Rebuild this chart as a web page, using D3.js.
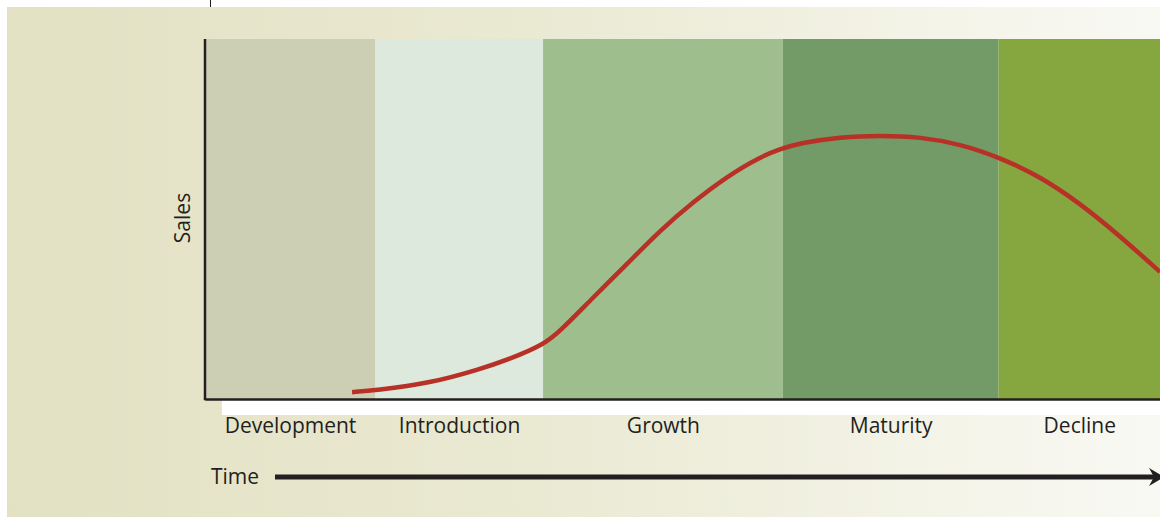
<!DOCTYPE html>
<html>
<head>
<meta charset="utf-8">
<script src="https://cdn.jsdelivr.net/npm/d3@7"></script>
<style>
  body { margin: 0; background: #fff; }
  svg { display: block; }
  text { font-family: "Open Sans", "Noto Sans", sans-serif; fill: #231f20; }
</style>
</head>
<body>
<svg id="chart"></svg>
<script>
// product life cycle stages (time units 0..100)
var stages = ["Development", "Introduction", "Growth", "Maturity", "Decline"];
var stageStart = [0, 17.8, 35.4, 60.5, 83.1];
var stageEnd = [17.8, 35.4, 60.5, 83.1, 100];

// sales curve
var time = [15.4, 17.8, 23.6, 28.8, 31.9, 35.4, 37.2, 40.6, 44.2, 47.6, 51.1, 54.7, 58.1, 60.2,
            62.3, 66.5, 70.7, 74.9, 79.1, 83.1, 87.4, 91.6, 95.8, 100];
var sales = [1.9, 2.4, 4.4, 8.3, 11.1, 15.0, 18.9, 28.1, 37.5, 46.7, 54.7, 61.9, 67.2, 69.4,
             71.1, 72.8, 73.2, 72.8, 70.8, 67.2, 61.9, 54.4, 45.3, 35.3];

var stageColors = ["#cdcfb4", "#dde9dc", "#9fbe8e", "#729b68", "#86a640"];

var W = 1160, H = 518;
var svg = d3.select("#chart").attr("width", W).attr("height", H);

// background panel
var grad = svg.append("defs").append("linearGradient")
    .attr("id", "bg").attr("x1", "0%").attr("x2", "100%");
grad.append("stop").attr("offset", "0%").attr("stop-color", "#e3e1c3");
grad.append("stop").attr("offset", "45%").attr("stop-color", "#eae9d2");
grad.append("stop").attr("offset", "100%").attr("stop-color", "#f9f9f4");

svg.append("rect")
    .attr("x", 7).attr("y", 7)
    .attr("width", W - 7).attr("height", 510)
    .attr("fill", "url(#bg)");

// small mark at top
svg.append("line")
    .attr("x1", 210.5).attr("x2", 210.5)
    .attr("y1", 0).attr("y2", 7)
    .attr("stroke", "#231f20").attr("stroke-width", 1);

var x = d3.scaleLinear().domain([0, 100]).range([205, 1160]);
var y = d3.scaleLinear().domain([0, 100]).range([399, 39]);

// stage bands
svg.selectAll(".band")
    .data(stages)
    .enter()
    .append("rect")
    .attr("class", "band")
    .attr("x", function(d, i) { return x(stageStart[i]); })
    .attr("width", function(d, i) { return x(stageEnd[i]) - x(stageStart[i]); })
    .attr("y", y(100))
    .attr("height", y(0) - y(100))
    .attr("fill", function(d, i) { return stageColors[i]; });

// white strip below the axis
svg.append("rect")
    .attr("x", 222).attr("y", 400)
    .attr("width", W - 222).attr("height", 15)
    .attr("fill", "#ffffff");

// sales curve
var line = d3.line()
    .x(function(d, i) { return x(time[i]); })
    .y(function(d) { return y(d); })
    .curve(d3.curveBasis);

svg.append("path")
    .datum(sales)
    .attr("d", line)
    .attr("fill", "none")
    .attr("stroke", "#b83127")
    .attr("stroke-width", 4.5);

// stage labels on the bottom axis
var mids = stages.map(function(d, i) { return (stageStart[i] + stageEnd[i]) / 2; });
var xAxis = svg.append("g")
    .attr("transform", "translate(0," + y(0) + ")")
    .call(d3.axisBottom(x)
        .tickValues(mids)
        .tickSize(0)
        .tickSizeOuter(0)
        .tickPadding(19)
        .tickFormat(function(d, i) { return stages[i]; }));
xAxis.select(".domain").attr("stroke", "#231f20").attr("stroke-width", 2.5);
xAxis.selectAll("text")
    .style("font-size", "21px")
    .style("fill", "#231f20")
    .style("font-family", "'Open Sans', 'Noto Sans', sans-serif");

// left axis
var yAxis = svg.append("g")
    .attr("transform", "translate(" + x(0) + ",0)")
    .call(d3.axisLeft(y).tickValues([]).tickSizeOuter(0));
yAxis.select(".domain")
    .attr("stroke", "#231f20").attr("stroke-width", 2.5)
    .attr("d", "M0," + y(100) + "V" + (y(0) + 1.2));

svg.append("text")
    .attr("transform", "translate(190," + ((y(100) + y(0)) / 2 - 1) + ") rotate(-90)")
    .attr("text-anchor", "middle")
    .style("font-size", "21px")
    .text("Sales");

// time arrow
svg.append("text")
    .attr("x", 211).attr("y", 484)
    .style("font-size", "21px")
    .text("Time");

svg.append("line")
    .attr("x1", 275).attr("x2", 1154)
    .attr("y1", 477).attr("y2", 477)
    .attr("stroke", "#231f20").attr("stroke-width", 5);

svg.append("path")
    .attr("d", "M1164,477 L1149,468 L1154,477 L1149,486 Z")
    .attr("fill", "#231f20");
</script>
</body>
</html>
